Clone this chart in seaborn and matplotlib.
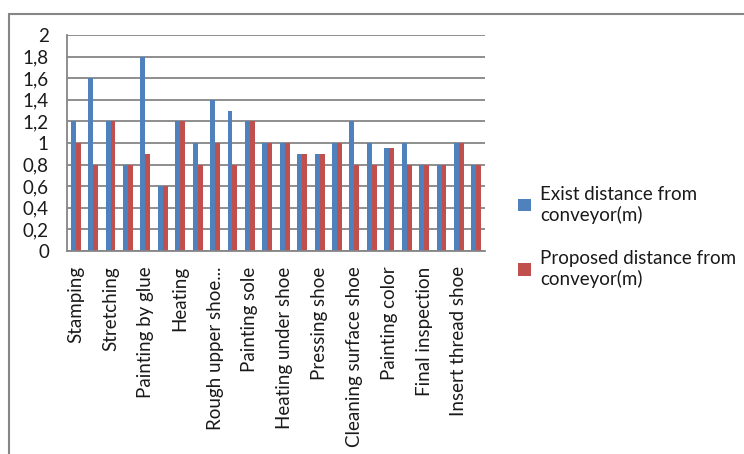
import pandas as pd
import matplotlib.pyplot as plt
import matplotlib.ticker as mticker
from matplotlib.patches import Rectangle
import seaborn as sns

# data (24 process steps, only every other label is shown on the axis)
steps = ['Stamping', 'Step 2', 'Stretching', 'Step 4', 'Painting by glue', 'Step 6',
         'Heating', 'Step 8', 'Rough upper shoe...', 'Step 10', 'Painting sole', 'Step 12',
         'Heating under shoe', 'Step 14', 'Pressing shoe', 'Step 16',
         'Cleaning surface shoe', 'Step 18', 'Painting color', 'Step 20',
         'Final inspection', 'Step 22', 'Insert thread shoe', 'Step 24']
exist = [1.2, 1.6, 1.2, 0.8, 1.8, 0.6, 1.2, 1.0, 1.4, 1.3, 1.2, 1.0,
         1.0, 0.9, 0.9, 1.0, 1.2, 1.0, 0.95, 1.0, 0.8, 0.8, 1.0, 0.8]
proposed = [1.0, 0.8, 1.2, 0.8, 0.9, 0.6, 1.2, 0.8, 1.0, 0.8, 1.2, 1.0,
            1.0, 0.9, 0.9, 1.0, 0.8, 0.8, 0.95, 0.8, 0.8, 0.8, 1.0, 0.8]
series = ['Exist distance from\nconveyor(m)', 'Proposed distance from\nconveyor(m)']

df = pd.DataFrame({'step': steps * 2,
                   'value': exist + proposed,
                   'series': [series[0]] * len(steps) + [series[1]] * len(steps)})

sns.set_style('white')
plt.rcParams['font.family'] = ['Lato', 'DejaVu Sans']
fs = 13.5

fig = plt.figure(figsize=(7.44, 4.54), dpi=100)
ax = fig.add_axes([0.090, 0.447, 0.562, 0.476])

sns.barplot(data=df, x='step', y='value', hue='series', order=steps,
            palette=['#4F81BD', '#C0504D'], width=0.57, gap=0, ax=ax,
            saturation=1, edgecolor='none', linewidth=0)

grid_c = '#868686'
ax.set_ylim(0, 2)
ax.set_xlim(-0.5, len(steps) - 0.5)
ax.yaxis.set_major_locator(mticker.MultipleLocator(0.2))
ax.yaxis.set_major_formatter(mticker.FuncFormatter(
    lambda v, p: f'{v:.1f}'.rstrip('0').rstrip('.').replace('.', ',') if v else '0'))
ax.grid(axis='y', color=grid_c, linewidth=1.3)
ax.set_axisbelow(True)

# labels on every other category, tick marks between categories
ax.set_xticks(range(0, len(steps), 2))
ax.set_xticklabels(steps[::2], rotation=90, fontsize=fs)
ax.set_xticks([i - 0.5 for i in range(len(steps) + 1)], minor=True)
ax.tick_params(axis='x', which='major', length=0, pad=11, colors='#1a1a1a')
ax.tick_params(axis='x', which='minor', length=5, color=grid_c, width=1.3, direction='out')
ax.tick_params(axis='y', length=5, color=grid_c, width=1.3, direction='out',
               labelsize=fs, pad=8, labelcolor='#1a1a1a')

for s in ['top', 'right']:
    ax.spines[s].set_visible(False)
for s in ['left', 'bottom']:
    ax.spines[s].set_color(grid_c)
    ax.spines[s].set_linewidth(1.3)

ax.set_xlabel('')
ax.set_ylabel('')

ax.legend(loc='center left', bbox_to_anchor=(0.674, 0.478), bbox_transform=fig.transFigure,
          frameon=False, fontsize=fs, handlelength=0.65, handleheight=0.65,
          handletextpad=0.5, labelspacing=1.4, labelcolor='#1a1a1a')

# chart area frame (cropped at right and bottom)
fig.patches.append(Rectangle((0.0115, -0.2), 1.5, 1.17,
                             transform=fig.transFigure, fill=False,
                             edgecolor='#868686', linewidth=1.5))

fig.savefig('out.png', dpi=100, facecolor='white')
